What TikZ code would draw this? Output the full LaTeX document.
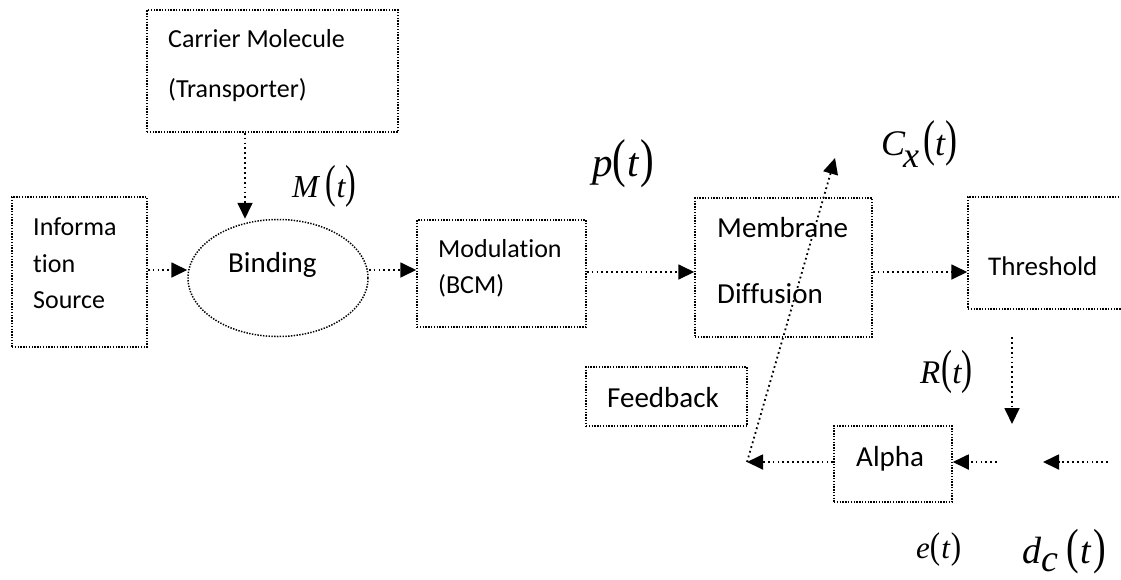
\documentclass[tikz,border=0pt]{standalone}
\usepackage{fontspec}
\setmainfont[Ligatures=NoCommon]{Carlito}
\newfontfamily\tms{Liberation Serif}
\usetikzlibrary{arrows.meta,shapes.geometric}
\newcommand\lpar[1]{{\upshape\scalebox{1}[#1]{(}}}
\newcommand\rpar[1]{{\upshape\scalebox{1}[#1]{)}}}
\begin{document}
\begin{tikzpicture}[x=1pt,y=-1pt,
  box/.style={draw, line width=1.5pt, dash pattern=on 1.4pt off 1.4pt, inner sep=0pt},
  txt/.style={anchor=base west, inner sep=0pt, font=\fontsize{26}{30}\selectfont},
  txtL/.style={anchor=base west, inner sep=0pt, font=\fontsize{29}{32}\selectfont},
  eq/.style={anchor=base west, inner sep=0pt},
  arr/.style={line width=1.8pt, dash pattern=on 1.8pt off 3.1pt,
    -{Triangle[length=16pt,width=15pt]}}
]
\clip (0,0) rectangle (1121,579);
\fill[white] (0,0) rectangle (1121,579);

% boxes
\node[box, minimum width=135pt, minimum height=150pt] (info) at (79.5,272) {};
\node[box, minimum width=251pt, minimum height=122pt] (carrier) at (272.5,71) {};
\node[box, ellipse, minimum width=180pt, minimum height=117pt] (bind) at (278,278) {};
\node[box, minimum width=169pt, minimum height=107pt] (mod) at (501.5,273.5) {};
\node[box, minimum width=177pt, minimum height=139pt] (mem) at (783.5,267.5) {};
\node[box, minimum width=182pt, minimum height=112pt] (thr) at (1059,253) {};
\node[box, minimum width=161pt, minimum height=59pt] (fb) at (666.5,396.5) {};
\node[box, minimum width=118pt, minimum height=76pt] (alpha) at (893,464) {};

% box texts
\node[txt] (t1) at (33,235) {Informa};
\node[txt] (t2) at (33,272) {tion};
\node[txt] (t3) at (33,308) {Source};
\node[txt] (t4) at (168,47) {Carrier Molecule};
\node[txt] (t5) at (168,97) {(Transporter)};
\node[txtL] (t6) at (228,272) {Binding};
\node[txt] (t7) at (438,257) {Modulation};
\node[txt] (t8) at (438,293) {(BCM)};
\node[txtL] (t9) at (717,237) {Membrane};
\node[txtL] (t10) at (717,303) {Diffusion};
\node[txt, font=\fontsize{27}{30}\selectfont] (t11) at (988,275) {Threshold};
\node[txtL] (t12) at (607,407) {Feedback};
\node[txtL] (t13) at (856,466) {Alpha};

% signal labels
\node[eq, font=\tms\fontsize{32}{32}\selectfont] (Mt) at (292,197)
  {\itshape M\hspace{7pt}\lpar{1.45}t\rpar{1.45}};
\node[eq, font=\tms\fontsize{41}{41}\selectfont] (pt) at (592,176)
  {\itshape p\lpar{1.3}\hspace{1pt}t\hspace{2pt}\rpar{1.3}};
\node[eq, font=\tms\fontsize{36}{36}\selectfont] (cxt) at (881,155)
  {\itshape C\hspace{-2pt}\raisebox{-12pt}{x}\hspace{4pt}\lpar{1.4}t\rpar{1.4}};
\node[eq, font=\tms\fontsize{33}{33}\selectfont] (Rt) at (920,383)
  {\itshape R\hspace{1pt}\lpar{1.45}t\rpar{1.45}};
\node[eq, font=\tms\fontsize{31}{31}\selectfont] (et) at (916,558)
  {\itshape e\lpar{1.2}\hspace{1pt}t\hspace{1pt}\rpar{1.2}};
\node[eq, font=\tms\fontsize{38}{38}\selectfont] (dct) at (1022,563)
  {\itshape d\raisebox{-8pt}{c}\hspace{8pt}\lpar{1.3}\hspace{2pt}t\hspace{2pt}\rpar{1.3}};

% helper coordinates
\coordinate (ya) at (0,270);
\coordinate (yb) at (0,272);
\coordinate (xc) at (245,0);
\coordinate (vs) at (1012,337);
\coordinate (vt) at (1012,424);
\coordinate (din) at (1108,462);
\coordinate (dtip) at (1043,462);
\coordinate (eo) at (997,462);
\coordinate (fbp) at (747,462);
\coordinate (cxtip) at (835,158);

% connectors
\draw[arr] (info.east |- ya) -- (bind.west |- ya);
\draw[arr] (carrier.south -| xc) -- (bind.north -| xc);
\draw[arr] (bind.east |- ya) -- (mod.west |- ya);
\draw[arr] (mod.east |- yb) -- (mem.west |- yb);
\draw[arr] (mem.east |- yb) -- (thr.west |- yb);
\draw[arr] (vs) -- (vt);
\draw[arr] (din) -- (dtip);
\draw[arr] (eo) -- (alpha.east |- eo);
\draw[arr] (alpha.west |- eo) -- (fbp);
\draw[arr] (fbp) -- (cxtip);
\end{tikzpicture}
\end{document}
